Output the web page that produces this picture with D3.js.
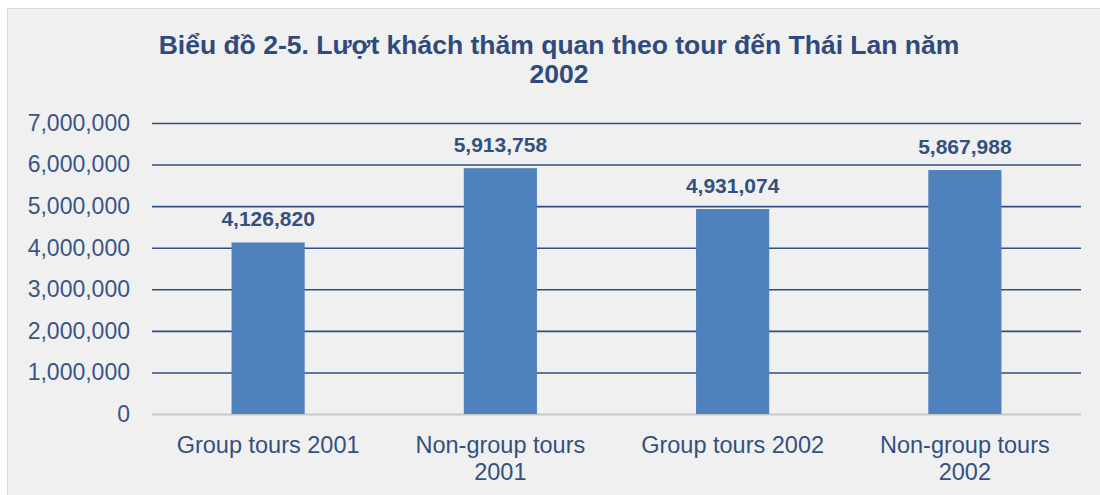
<!DOCTYPE html>
<html><head><meta charset="utf-8">
<script src="https://cdn.jsdelivr.net/npm/d3@7"></script>
<style>
body{margin:0;background:#fff;}
svg{display:block;font-family:"Liberation Sans",Arial,sans-serif;}
</style></head>
<body><svg id="c" width="1100" height="495"></svg>
<script>
const categories = [["Group tours 2001"],["Non-group tours","2001"],["Group tours 2002"],["Non-group tours","2002"]];
const values = [4126820, 5913758, 4931074, 5867988];
const yTicks = [0,1000000,2000000,3000000,4000000,5000000,6000000,7000000];
const titleLines = ["Biểu đồ 2-5. Lượt khách thăm quan theo tour đến Thái Lan năm","2002"];

(function(){
const svg = d3.select("#c");
svg.append("rect").attr("x",7.5).attr("y",8.5).attr("width",1100).attr("height",500)
  .attr("fill","#f0f0f0").attr("stroke","#d9d9d9");

const pl=152, pr=1081, pt=123, pb=414;
const x = d3.scaleBand().domain(d3.range(categories.length)).range([pl,pr]).paddingInner(0.685).paddingOuter(0.3425);
const y = d3.scaleLinear().domain([0,7000000]).range([pb,pt]);
const fmt = d3.format(",");

const yAxis = svg.append("g").attr("transform",`translate(${pl},0)`)
  .call(d3.axisLeft(y).tickValues(yTicks).tickFormat(fmt).tickSize(-(pr-pl)).tickPadding(22));
yAxis.select(".domain").remove();
yAxis.selectAll(".tick line").attr("stroke",d=>d===0?"#c8c8c8":"#2f4f80").attr("stroke-width",d=>d===0?2:1.6);
yAxis.selectAll(".tick text").attr("fill","#3a5583").attr("font-size","23px").attr("font-family","'Liberation Sans',Arial,sans-serif");

svg.append("g").selectAll("rect").data(values).join("rect")
  .attr("x",(d,i)=>x(i)).attr("width",x.bandwidth())
  .attr("y",d=>y(d)).attr("height",d=>pb-y(d)).attr("fill","#4f81bd");

svg.append("g").selectAll("text").data(values).join("text")
  .attr("x",(d,i)=>x(i)+x.bandwidth()/2).attr("y",d=>y(d)-16)
  .attr("text-anchor","middle").attr("font-weight","bold").attr("font-size","21px").attr("fill","#33507f")
  .text(d=>fmt(d));

const xl = svg.append("g").selectAll("text").data(categories).join("text")
  .attr("x",(d,i)=>x(i)+x.bandwidth()/2).attr("y",453)
  .attr("text-anchor","middle").attr("font-size","23.5px").attr("fill","#33507f");
xl.selectAll("tspan").data(d=>d).join("tspan")
  .attr("x",function(){return this.parentNode.getAttribute("x");})
  .attr("dy",(d,i)=>i===0?0:27).text(d=>d);

svg.append("text").attr("text-anchor","middle").attr("font-weight","bold").attr("font-size","26.5px").attr("fill","#2f4a7c")
  .selectAll("tspan").data(titleLines).join("tspan")
  .attr("x",559).attr("y",(d,i)=>54+i*29).text(d=>d);
})();
</script></body></html>
